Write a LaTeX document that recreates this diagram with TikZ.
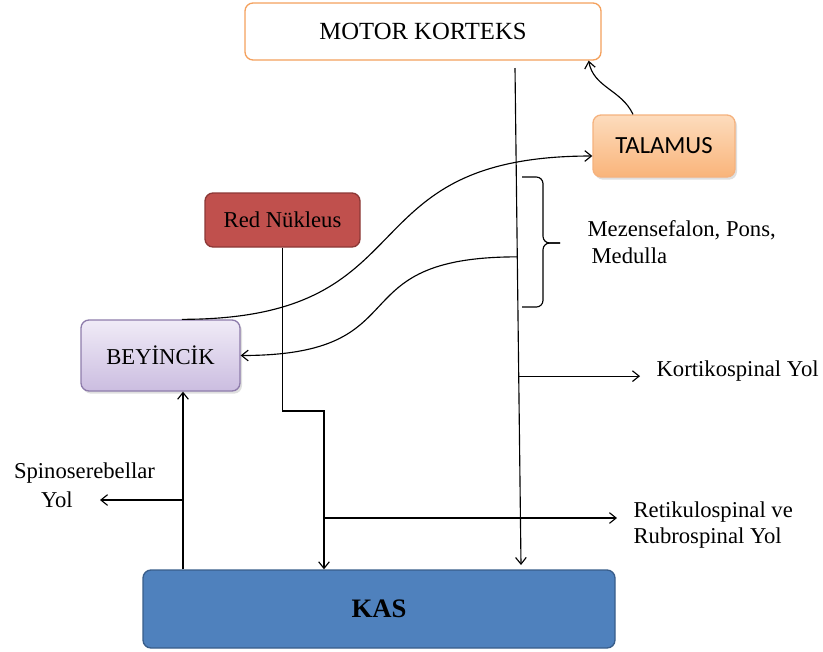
\documentclass[tikz,border=0pt]{standalone}
\usepackage{fontspec}
\setmainfont{Liberation Serif}
\newfontfamily\calibri{Carlito}
\usetikzlibrary{arrows.meta}
\usetikzlibrary{calc}
\usetikzlibrary{shadows}

\definecolor{mkline}{HTML}{F4A15D}
\definecolor{taltop}{HTML}{FDDCBD}
\definecolor{talbot}{HTML}{F9B47A}
\definecolor{talline}{HTML}{F5B27E}
\definecolor{rnfill}{HTML}{C0504D}
\definecolor{rnline}{HTML}{8C3836}
\definecolor{beytop}{HTML}{F0EBF7}
\definecolor{beybot}{HTML}{CBBDE0}
\definecolor{beyline}{HTML}{8E7CAB}
\definecolor{kasfill}{HTML}{4F81BD}
\definecolor{kasline}{HTML}{385D8A}

\begin{document}
\begin{tikzpicture}[x=0.75pt,y=-0.75pt,line width=0.85pt,>/.tip={Straight Barb[length=5pt,width=8pt]},
	rbox/.style={draw,rounded corners=6pt,line width=1pt,inner sep=0pt,font=\fontsize{17}{20}\selectfont},
	lbl/.style={inner xsep=12pt,inner ysep=1pt,align=left,font=\fontsize{17}{20}\selectfont},
	shd/.style={drop shadow={shadow xshift=1.5pt,shadow yshift=-2pt,opacity=0.25}}]
	\useasboundingbox (0,0) rectangle (823,651);
	% boxes
	\draw (423,31.5) node(MK) [rbox,draw=mkline,fill=white,minimum width=267pt,minimum height=42.75pt,font=\fontsize{18.5}{22}\selectfont] {MOTOR KORTEKS};
	\draw (664,146) node(TAL) [rbox,shd,draw=talline,top color=taltop,bottom color=talbot,minimum width=106.5pt,minimum height=46.5pt,font=\calibri\fontsize{18.5}{22}\selectfont] {TALAMUS};
	\draw (282.5,220) node(RN) [rbox,draw=rnline,fill=rnfill,minimum width=116.25pt,minimum height=40.5pt] {Red Nükleus};
	\draw (160.5,355.5) node(BEY) [rbox,shd,draw=beyline,top color=beytop,bottom color=beybot,minimum width=119.25pt,minimum height=53.25pt] {BEYİNCİK};
	\draw (379,609) node(KAS) [rbox,draw=kasline,fill=kasfill,minimum width=354pt,minimum height=58.5pt,font=\bfseries\fontsize{20}{24}\selectfont] {KAS};
	% labels
	\node (MEZ) [lbl,inner xsep=0pt,anchor=west] at (587,242) {Mezensefalon, Pons,\\\hspace*{3pt}Medulla};
	\node (KYOL) [lbl,anchor=west] at (640,371) {Kortikospinal Yol};
	\node (RYOL) [lbl,anchor=west] at (617,525) {Retikulospinal ve\\Rubrospinal Yol};
	\node (SPINO) [lbl,inner xsep=0pt] at (84.5,473) {Spinoserebellar};
	\node (SYOL) [lbl,inner xsep=20pt,anchor=east] at (100,500) {Yol};
	% motor korteks line
	\coordinate (CT) at (515,68);
	\coordinate (CBOT) at (521,565);
	\draw[->] (CT) -- (CBOT);
	\coordinate (KB) at ($(CT)!0.62!(CBOT)$);
	\coordinate (CB) at ($(CT)!0.38!(CBOT)$);
	\draw[->] (KB) -- (KB -| KYOL.west);
	\draw[->] (CB) to [out=180,in=0,looseness=1.6] (BEY.east);
	\draw[->] ([xshift=16pt]BEY.north) to [out=0,in=180,looseness=1.45] ([yshift=-7.5pt]TAL.west);
	\draw[->] ([xshift=-23.25pt]TAL.north) to [out=115,in=-80] ([xshift=-9.75pt]MK.south east);
	% brace
	\draw[rounded corners=5pt] (522,177) -- (543,177) -- (543,243) -- (560,243);
	\draw[rounded corners=5pt] (522,307) -- (543,307) -- (543,243) -- (560,243);
	% red nukleus
	\coordinate (RB) at (324,411);
	\draw[->] (RN.south) |- (RB) -- (RB |- KAS.north);
	\coordinate (RBR) at (324,518);
	\draw[->] (RBR) -- (RBR -| RYOL.west);
	% spinoserebellar
	\coordinate (SB) at (183,500);
	\draw[->] (SB |- KAS.north) -- (SB |- BEY.south);
	\draw[->] (SB) -- (SB -| SYOL.east);
\end{tikzpicture}
\end{document}
